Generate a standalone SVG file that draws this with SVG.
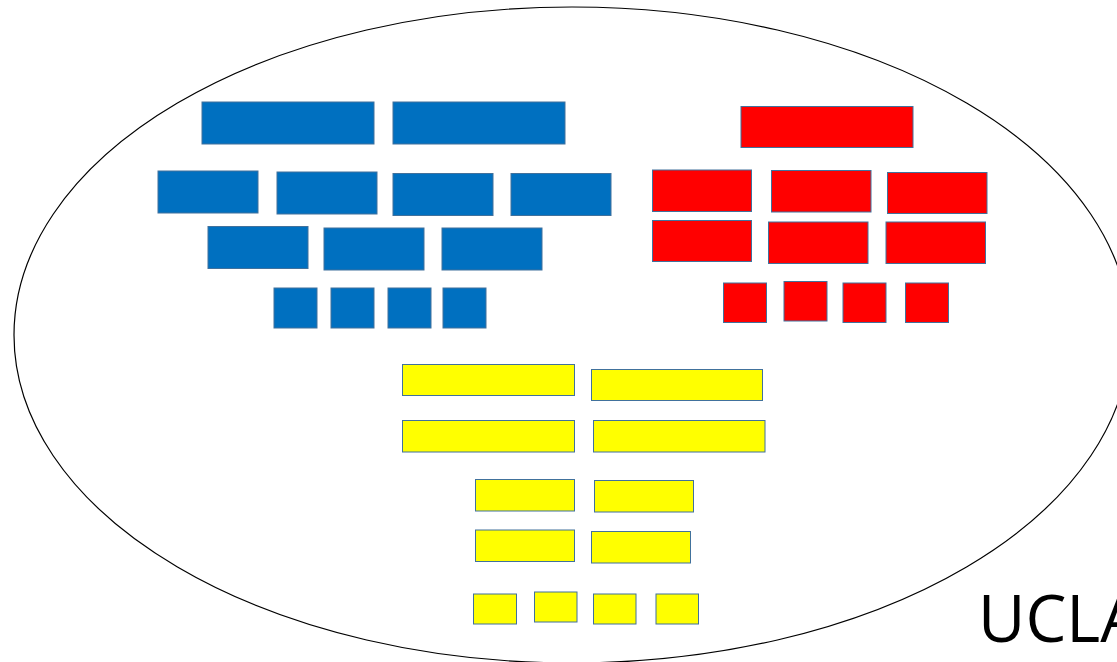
<svg xmlns="http://www.w3.org/2000/svg" width="1117" height="662" viewBox="0 0 1117 662">
<style>
.b{fill:#0070C0;stroke:#41719C;stroke-width:1}
.r{fill:#FF0000;stroke:#41719C;stroke-width:1}
.y{fill:#FFFF00;stroke:#41719C;stroke-width:1}
.t{font-family:"Open Sans","Liberation Sans",sans-serif;font-size:65px;fill:#000}
</style>
<rect width="1117" height="662" fill="#fff"/>
<g id="boundary"><ellipse cx="572" cy="335" rx="558" ry="328" fill="none" stroke="#000" stroke-width="1.2"/></g>
<g id="blue">
<rect class="b" x="202" y="102" width="172" height="42"/>
<rect class="b" x="393" y="102" width="172" height="42"/>
<rect class="b" x="158" y="171" width="100" height="42"/>
<rect class="b" x="277" y="172" width="100" height="42"/>
<rect class="b" x="393" y="173.5" width="100" height="42"/>
<rect class="b" x="511" y="173.5" width="100" height="42"/>
<rect class="b" x="208" y="226.5" width="100" height="42"/>
<rect class="b" x="324" y="228" width="100" height="42"/>
<rect class="b" x="442" y="228" width="100" height="42"/>
<rect class="b" x="274" y="288" width="43" height="40"/>
<rect class="b" x="331" y="288" width="43" height="40"/>
<rect class="b" x="388" y="288" width="43" height="40"/>
<rect class="b" x="443" y="288" width="43" height="40"/>
</g>
<g id="red">
<rect class="r" x="741" y="106.5" width="172" height="41"/>
<rect class="r" x="652.5" y="170" width="99" height="41.5"/>
<rect class="r" x="771.5" y="170.5" width="99.5" height="41.5"/>
<rect class="r" x="887.5" y="172.5" width="99.5" height="41"/>
<rect class="r" x="652.5" y="220.5" width="99" height="41"/>
<rect class="r" x="768.5" y="222" width="99.5" height="41.5"/>
<rect class="r" x="886" y="222" width="99.5" height="41.5"/>
<rect class="r" x="723.5" y="283" width="43" height="39.5"/>
<rect class="r" x="784" y="281.5" width="43" height="39.5"/>
<rect class="r" x="843" y="283" width="43" height="39.5"/>
<rect class="r" x="905.5" y="283" width="43" height="39.5"/>
</g>
<g id="yellow">
<rect class="y" x="402.5" y="364.5" width="172" height="31"/>
<rect class="y" x="591.5" y="369.5" width="171" height="31"/>
<rect class="y" x="402.5" y="420.5" width="172" height="31.5"/>
<rect class="y" x="593.5" y="420.5" width="171.5" height="31.5"/>
<rect class="y" x="475.5" y="479.5" width="99" height="31.5"/>
<rect class="y" x="594.5" y="480.5" width="99" height="31.5"/>
<rect class="y" x="475.5" y="530" width="99" height="31.5"/>
<rect class="y" x="591.5" y="531.5" width="99" height="31.5"/>
<rect class="y" x="473.5" y="594" width="43" height="30"/>
<rect class="y" x="534.5" y="592" width="42.5" height="30"/>
<rect class="y" x="593.5" y="594" width="42.5" height="30"/>
<rect class="y" x="656" y="594" width="42.5" height="30"/>
</g>
<g id="label"><text class="t" x="978" y="642">UCLA</text></g>
</svg>
